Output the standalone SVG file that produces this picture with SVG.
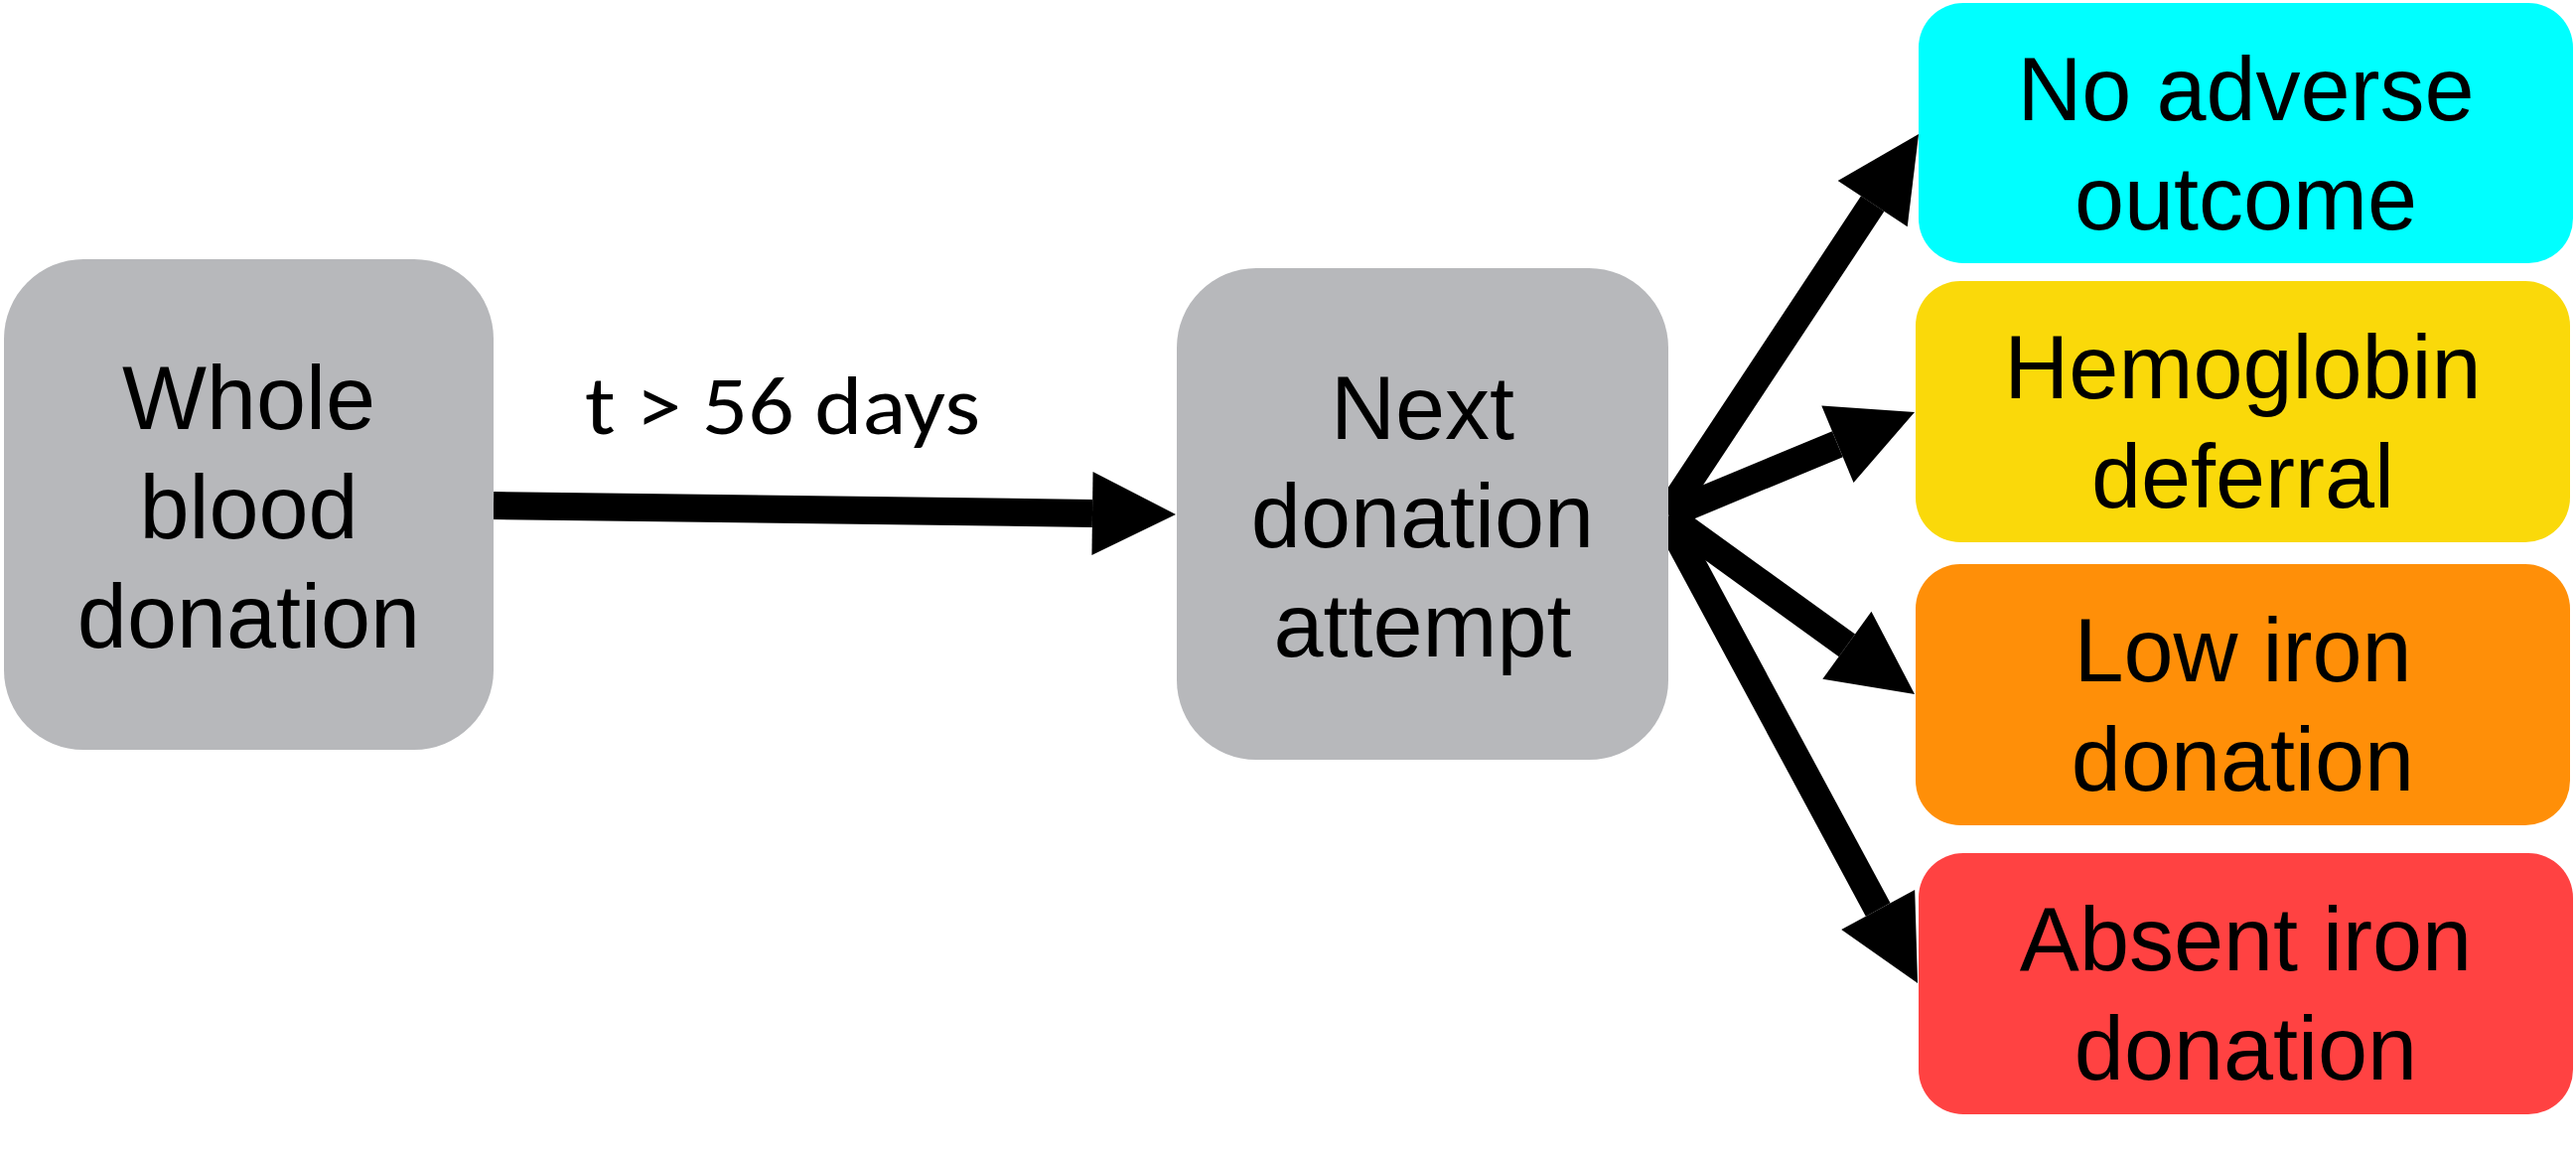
<svg xmlns="http://www.w3.org/2000/svg" width="2594" height="1164" viewBox="0 0 2594 1164">
<defs>
<style>
.node{stroke:none}
.lbl{font-family:"Liberation Sans",Arial,sans-serif;font-size:90px;fill:#000;text-anchor:middle}
.edge{stroke:#000;stroke-width:28;fill:none;stroke-linecap:butt;marker-end:url(#ah)}
.elbl{font-family:Carlito,Lato,"Open Sans",sans-serif;font-size:84px;fill:#000;text-anchor:middle}
</style>
<marker id="ah" markerUnits="strokeWidth" markerWidth="3" markerHeight="3" viewBox="0 0 3 3" refX="0" refY="1.5" orient="auto" overflow="visible">
<path d="M0,0 L3,1.5 L0,3 Z" fill="#000"/>
</marker>
</defs>
<rect width="2594" height="1164" fill="#fff"/>
<g id="connectors">
<line class="edge" x1="497" y1="509" x2="1100" y2="516.9"/>
<line class="edge" x1="1680" y1="516" x2="1885.7" y2="205.1"/>
<line class="edge" x1="1680" y1="518" x2="1850.4" y2="447.2"/>
<line class="edge" x1="1680" y1="520" x2="1859.9" y2="649.8"/>
<line class="edge" x1="1680" y1="524" x2="1891.2" y2="916"/>
<text class="elbl" x="788" y="437" textLength="398" lengthAdjust="spacingAndGlyphs">t &gt; 56 days</text>
</g>
<g id="whole-blood">
<rect class="node" x="4" y="261" width="493" height="494" rx="80" fill="#B7B8BB"/>
<text class="lbl" x="250.5" y="432">Whole</text>
<text class="lbl" x="250.5" y="542">blood</text>
<text class="lbl" x="250.5" y="651.5">donation</text>
</g>
<g id="next-donation">
<rect class="node" x="1185" y="270" width="495" height="495" rx="80" fill="#B7B8BB"/>
<text class="lbl" x="1432.5" y="442">Next</text>
<text class="lbl" x="1432.5" y="551">donation</text>
<text class="lbl" x="1432.5" y="661">attempt</text>
</g>
<g id="no-adverse">
<rect class="node" x="1932" y="3" width="659" height="262" rx="45" fill="#00FFFF"/>
<text class="lbl" x="2261.5" y="121">No adverse</text>
<text class="lbl" x="2261.5" y="231">outcome</text>
</g>
<g id="hemoglobin">
<rect class="node" x="1929" y="283" width="659" height="263" rx="45" fill="#FAD90A"/>
<text class="lbl" x="2258.5" y="401">Hemoglobin</text>
<text class="lbl" x="2258.5" y="511">deferral</text>
</g>
<g id="low-iron">
<rect class="node" x="1929" y="568" width="659" height="263" rx="45" fill="#FF8F08"/>
<text class="lbl" x="2258.5" y="685.5">Low iron</text>
<text class="lbl" x="2258.5" y="795.5">donation</text>
</g>
<g id="absent-iron">
<rect class="node" x="1932" y="859" width="659" height="263" rx="45" fill="#FF4242"/>
<text class="lbl" x="2261.5" y="976.5">Absent iron</text>
<text class="lbl" x="2261.5" y="1086.5">donation</text>
</g>
</svg>
